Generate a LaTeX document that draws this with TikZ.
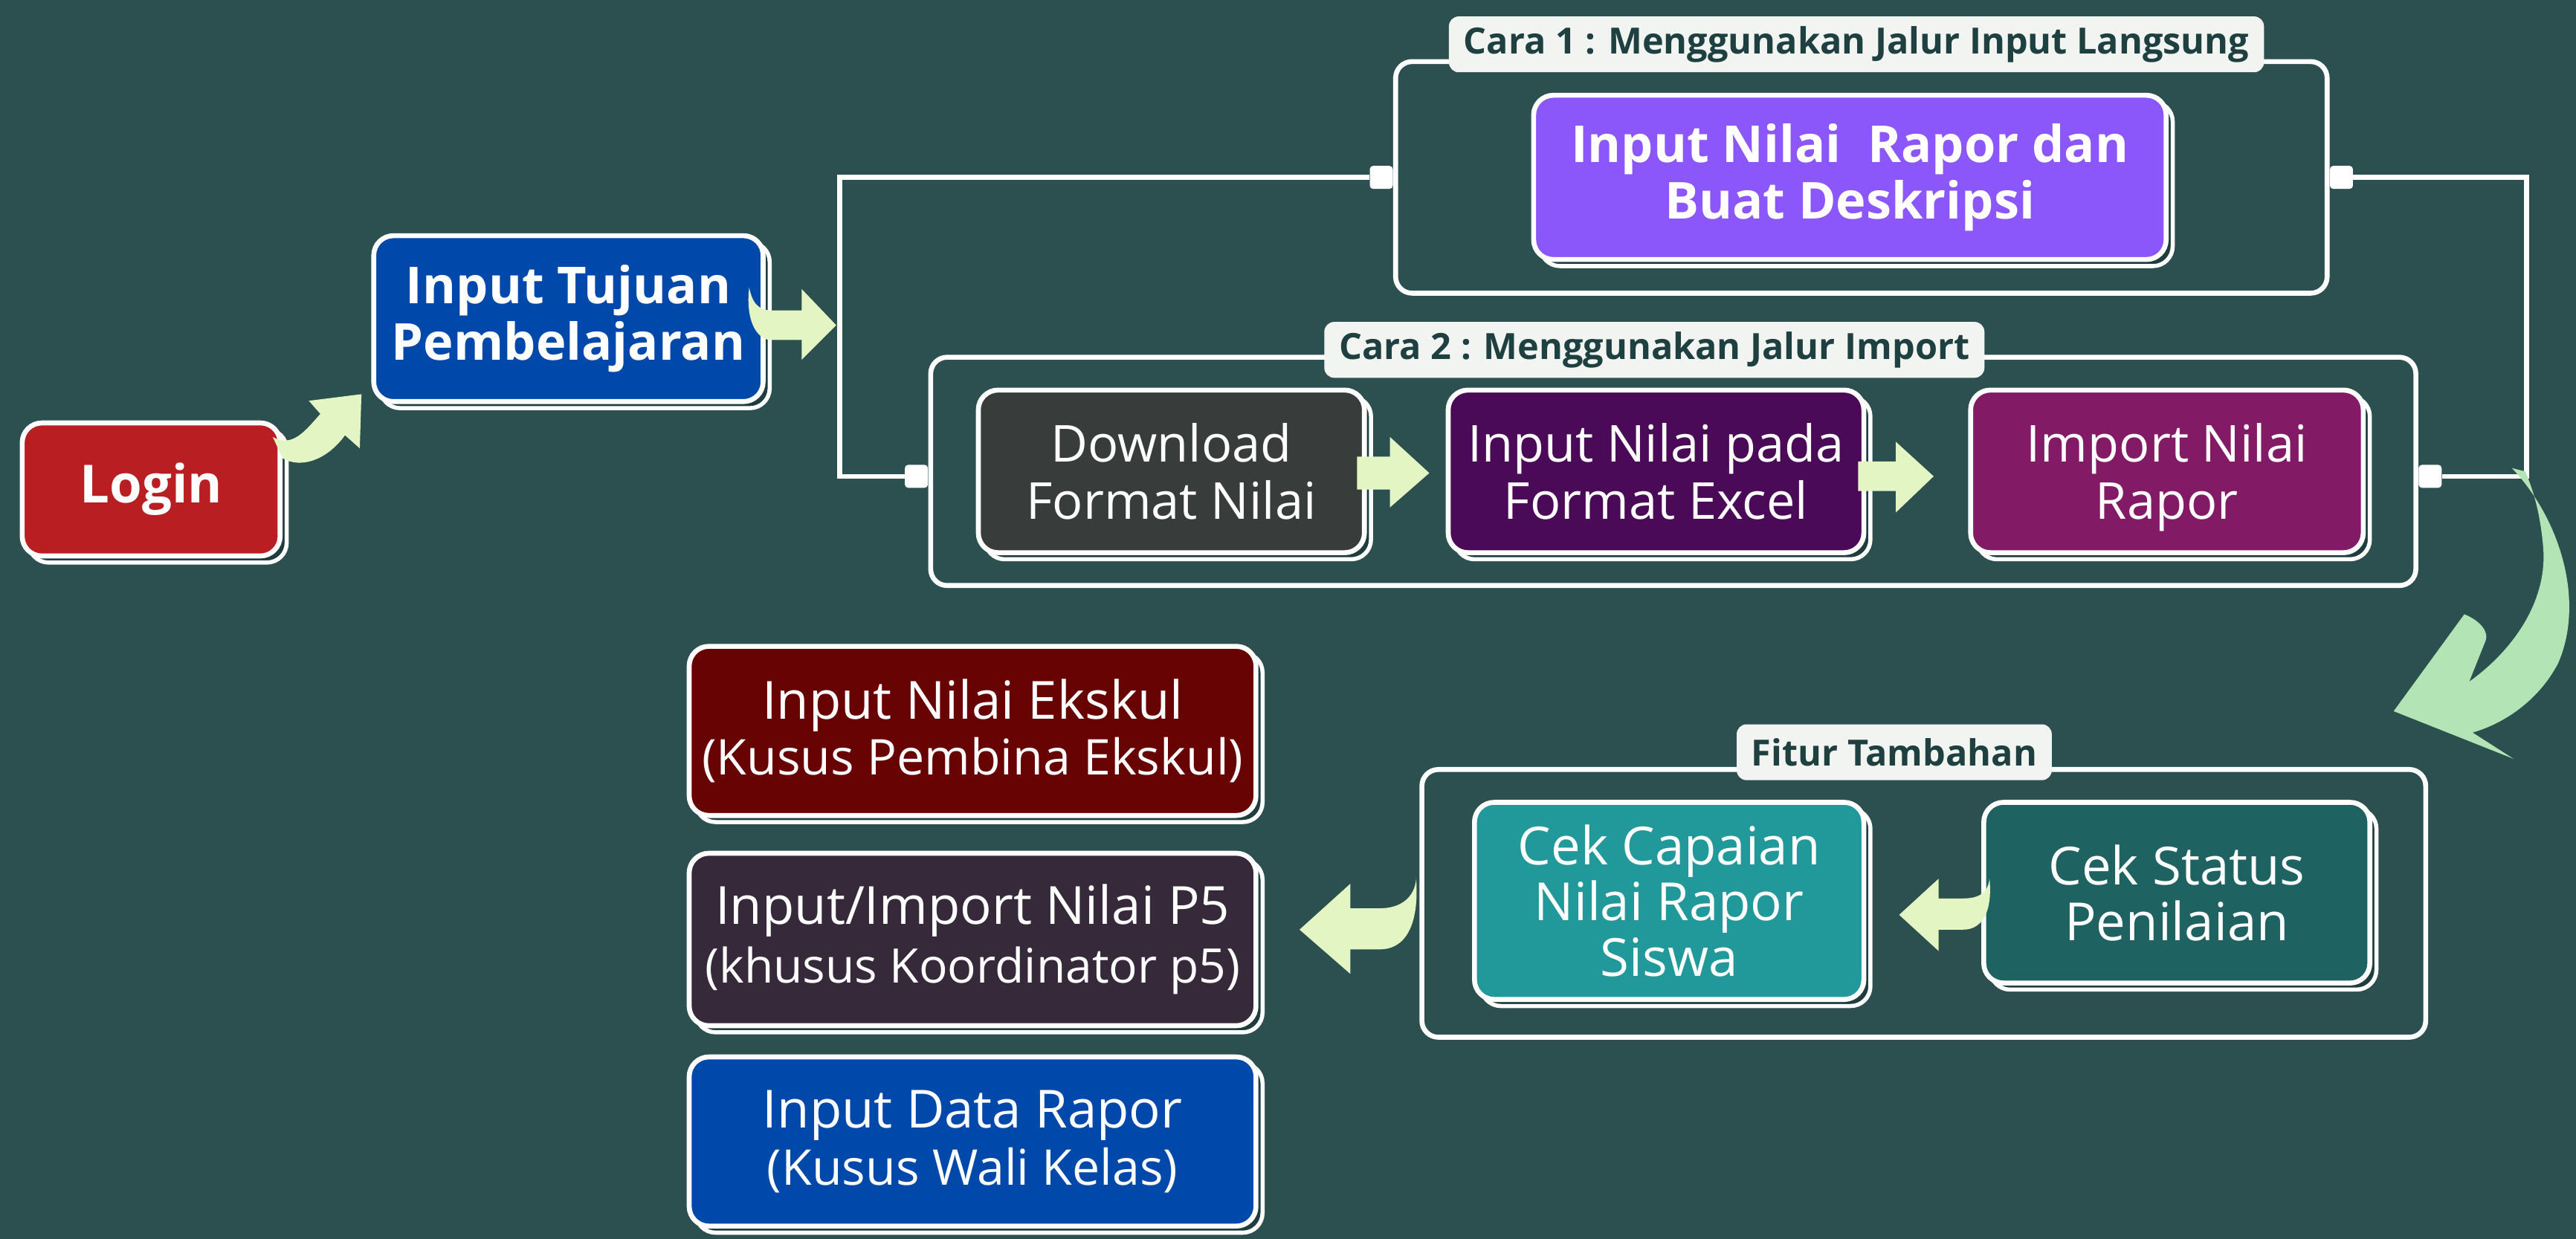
\documentclass[tikz,border=0pt]{standalone}
\usepackage{fontspec}
\setmainfont{Open Sans}
\usepackage{tikz}
\usetikzlibrary{shadows,positioning,calc}
\definecolor{board}{HTML}{2C4F4F}
\definecolor{boxshade}{HTML}{1F3D3E}
\definecolor{loginc}{HTML}{B81E22}
\definecolor{tujuanc}{HTML}{0049AA}
\definecolor{raporc}{HTML}{8B57FB}
\definecolor{downc}{HTML}{383C3A}
\definecolor{excelc}{HTML}{4B0A57}
\definecolor{importc}{HTML}{821A66}
\definecolor{ekskulc}{HTML}{680303}
\definecolor{pfivec}{HTML}{35293A}
\definecolor{datac}{HTML}{0049AB}
\definecolor{capaianc}{HTML}{21989A}
\definecolor{statusc}{HTML}{1E6262}
\definecolor{tagfill}{HTML}{F2F4F1}
\definecolor{tagtext}{HTML}{1E4040}
\definecolor{hintc}{HTML}{E4F5C4}
\definecolor{swoopc}{HTML}{B2E4B5}

\begin{document}
\begin{tikzpicture}[x=1pt,y=-1pt,
			box/.style={rectangle,rounded corners=12pt,draw=white,line width=3pt,text=white,align=center,inner sep=0pt,
				copy shadow={shadow xshift=4pt,shadow yshift=-4pt,fill=boxshade,draw=white,line width=2.5pt}},
			panel/.style={rectangle,rounded corners=10pt,draw=white,line width=3pt,inner sep=0pt},
			tag/.style={rectangle,rounded corners=6pt,fill=tagfill,text=tagtext,font=\bfseries\fontsize{22}{24}\selectfont,inner xsep=9pt,inner ysep=0pt,minimum height=34pt},
			knob/.style={rectangle,rounded corners=2pt,fill=white,minimum size=14pt,inner sep=0pt},
			wire/.style={draw=white,line width=3pt},
			bold/.style={font=\bfseries\fontsize{31}{34}\selectfont},
			plain/.style={font=\fontsize{31}{35}\selectfont},
			hint/.style={fill=hintc},
			swoop/.style={fill=swoopc}]
		\useasboundingbox[fill=board] (0,0) rectangle (1568,754.3);
		\path 	(1133,108) 	node 	(cara1) [panel, minimum width=567pt, minimum height=141pt] {}
		        (1018.5,287) node 	(cara2) [panel, minimum width=904pt, minimum height=139pt] {}
		        (1171,550) 	node 	(fitur) [panel, minimum width=611pt, minimum height=163pt] {};
		\path 	(1130,27) 	node 	(tag1) [tag] {Cara 1 : Menggunakan Jalur Input Langsung}
		        (1007,213) 	node 	(tag2) [tag] {Cara 2 : Menggunakan Jalur Import}
		        (1153,458) 	node 	(tag3) [tag] {Fitur Tambahan};
		\node (k1l) [knob, anchor=east] at (cara1.west) {};
		\node (k2l) [knob, anchor=east] at ($(cara2.west)+(0,3)$) {};
		\node (k1r) [knob, anchor=west] at (cara1.east) {};
		\node (k2r) [knob, anchor=west] at ($(cara2.east)+(0,3)$) {};
		\coordinate (ljoin) at (511,290);
		\coordinate (rjoin) at (1538,290);
		\draw [wire] (k1l.west) -| (ljoin) -- (k2l.west);
		\draw [wire] (k1r.east) -| (rjoin) -- (k2r.east);
		\path 	(92,298) 	node 	(login) [box, fill=loginc, bold, font=\bfseries\fontsize{32}{34}\selectfont, minimum width=157pt, minimum height=81pt] {Login}
		        (346,194) 	node 	(tujuan) [box, fill=tujuanc, bold, minimum width=237pt, minimum height=101pt] {Input Tujuan\\Pembelajaran}
		        (1126,108) 	node 	(rapor) [box, fill=raporc, bold, minimum width=385pt, minimum height=100pt] {Input Nilai\ \ Rapor dan\\Buat Deskripsi}
		        (713,287) 	node 	(download) [box, fill=downc, plain, minimum width=235pt, minimum height=99pt] {Download\\Format Nilai}
		        (1008,287) 	node 	(excel) [box, fill=excelc, plain, minimum width=253pt, minimum height=99pt] {Input Nilai pada\\Format Excel}
		        (1319,287) 	node 	(import) [box, fill=importc, plain, text depth=0pt, minimum width=239pt, minimum height=99pt] {Import Nilai\\Rapor}
		        (592,445) 	node 	(ekskul) [box, fill=ekskulc, font=\fontsize{32}{34}\selectfont, minimum width=345pt, minimum height=103pt] {Input Nilai Ekskul\\{\fontsize{30}{33}\selectfont (Kusus Pembina Ekskul)}}
		        (592,572) 	node 	(pfive) [box, fill=pfivec, font=\fontsize{32}{36}\selectfont, minimum width=345pt, minimum height=105pt] {Input/Import Nilai P5\\{\fontsize{29}{33}\selectfont (khusus Koordinator p5)}}
		        (592,695) 	node 	(data) [box, fill=datac, font=\fontsize{32}{35}\selectfont, minimum width=345pt, minimum height=103pt] {Input Data Rapor\\{\fontsize{30}{33}\selectfont (Kusus Wali Kelas)}}
		        (1016,548.5) node 	(capaian) [box, fill=capaianc, font=\fontsize{32}{34}\selectfont, minimum width=237pt, minimum height=120pt] {Cek Capaian\\Nilai Rapor\\Siswa}
		        (1325,543.5) node 	(status) [box, fill=statusc, font=\fontsize{32}{34}\selectfont, minimum width=235pt, minimum height=110pt] {Cek Status\\Penilaian};
		\fill [hint] (166,266) .. controls (178,273) and (186,262) .. (195,252) -- (188,244) -- (220,240) -- (219,273) -- (210,265) .. controls (200,279) and (184,286) .. (172,279) -- cycle;
		\fill [hint] (456,175) .. controls (458,185) and (462,189) .. (470,189) -- (488,189) -- (488,176) -- (509,198) -- (488,219) -- (488,207) -- (468,207) .. controls (459,205) and (454,193) .. (456,175) -- cycle;
		\fill [hint] (826,278) -- (846,278) -- (846,266) -- (870,288) -- (846,309) -- (846,298) -- (826,298) -- cycle;
		\fill [hint] (1131,281) -- (1154,281) -- (1154,269) -- (1177,290) -- (1154,312) -- (1154,299) -- (1131,299) -- cycle;
		\fill [hint] (1211,535) .. controls (1210,544) and (1204,547) .. (1195,547) -- (1180,547) -- (1180,535) -- (1156,557) -- (1180,579) -- (1180,566) -- (1195,566) .. controls (1206,566) and (1213,556) .. (1211,535) -- cycle;
		\fill [hint] (862,535) .. controls (861,547) and (852,553) .. (840,553) -- (822,553) -- (822,538) -- (791,566) -- (822,593) -- (822,578) -- (840,578) .. controls (855,578) and (864,564) .. (862,535) -- cycle;
		\fill [swoop] (1529,285) .. controls (1560,318) and (1573,368) .. (1557,404) .. controls (1546,425) and (1526,440) .. (1505,446) -- (1530,462) -- (1457,433) -- (1500,374) .. controls (1510,378) and (1515,385) .. (1513,390) -- (1503,415) .. controls (1527,398) and (1551,368) .. (1548,333) .. controls (1546,310) and (1541,296) .. (1537,287) -- cycle;
	\end{tikzpicture}
\end{document}
